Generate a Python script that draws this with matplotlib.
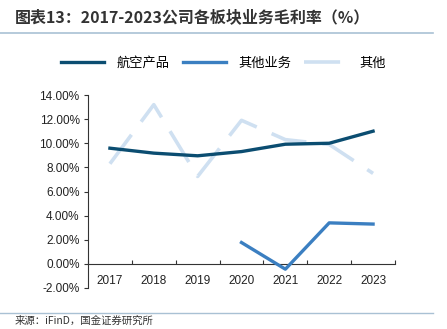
import matplotlib
matplotlib.use("Agg")
import matplotlib.pyplot as plt
from matplotlib.lines import Line2D
import numpy as np

years = ["2017", "2018", "2019", "2020", "2021", "2022", "2023"]
aviation = [9.59, 9.18, 8.96, 9.31, 9.92, 10.0, 11.0]
other_biz = [np.nan, np.nan, np.nan, 1.77, -0.44, 3.4, 3.3]
other = [8.3, 13.2, 7.25, 11.9, 10.3, 9.9, 7.5]
yticks = [-2, 0, 2, 4, 6, 8, 10, 12, 14]

c_dark = "#0b4d71"
c_mid = "#3b7fc1"
c_light = "#cfe0f1"

cjk = ["Noto Sans CJK SC", "DejaVu Sans"]
num = ["Liberation Sans", "DejaVu Sans"]

fig = plt.figure(figsize=(4.47, 3.29), dpi=100)
ax = fig.add_axes([88/447, 1-288/329, 307/447, 193/329])

x = np.arange(len(years))
ax.plot(x, other, color=c_light, lw=2.6, dashes=(10, 4.5), solid_capstyle="butt", zorder=2)
ax.plot(x, aviation, color=c_dark, lw=2.4, zorder=3)
ax.plot(x, other_biz, color=c_mid, lw=2.4, zorder=3)

ax.set_xlim(-0.5, len(years) - 0.5)
ax.set_ylim(-2, 14)
ax.set_yticks(yticks)
ax.set_yticklabels([f"{v:.2f}%" for v in yticks], fontfamily=num, fontsize=8.5, color="#222222")
ax.tick_params(axis="y", direction="out", length=3, width=0.8, pad=3, color="#333333")

for s in ["top", "right"]:
    ax.spines[s].set_visible(False)
ax.spines["left"].set_color("#333333")
ax.spines["left"].set_linewidth(0.8)
ax.spines["bottom"].set_position(("data", 0))
ax.spines["bottom"].set_color("#333333")
ax.spines["bottom"].set_linewidth(0.8)

ax.set_xticks(np.arange(len(years) + 1) - 0.5)
ax.set_xticklabels([])
ax.tick_params(axis="x", which="major", direction="in", length=3, width=0.8, color="#333333")
ax.set_xticks(x, minor=True)
ax.set_xticklabels(years, minor=True, fontfamily=num, fontsize=8.5, color="#222222")
ax.tick_params(axis="x", which="minor", length=0, pad=8)

handles = [
    Line2D([], [], color=c_dark, lw=2.4),
    Line2D([], [], color=c_mid, lw=2.4),
    Line2D([], [], color=c_light, lw=2.6, dashes=(10, 4.5)),
]
labels = ["航空产品", "其他业务", "其他"]
fig.legend(handles, labels, loc="center", bbox_to_anchor=(0.5, 1-63/329), ncol=3,
           frameon=False, prop={"family": cjk, "size": 9.5},
           handlelength=3.3, handletextpad=0.9, columnspacing=1.0)

fig.text(15/447, 1-17/329, "图表13：2017-2023公司各板块业务毛利率（%）", fontfamily=cjk,
         fontsize=11.5, fontweight="bold", color="#333333", va="center", ha="left")
fig.add_artist(Line2D([0, 433/447], [1-33/329, 1-33/329], color="#a9c1d4", lw=1.2,
                      transform=fig.transFigure))
fig.add_artist(Line2D([0, 433/447], [1-313/329, 1-313/329], color="#a9c1d4", lw=1.0,
                      transform=fig.transFigure))
fig.text(15/447, 1-321/329, "来源：iFinD，国金证券研究所", fontfamily=cjk, fontsize=7.5,
         color="#333333", va="center", ha="left")

fig.savefig("out.png", dpi=100, facecolor="white")
